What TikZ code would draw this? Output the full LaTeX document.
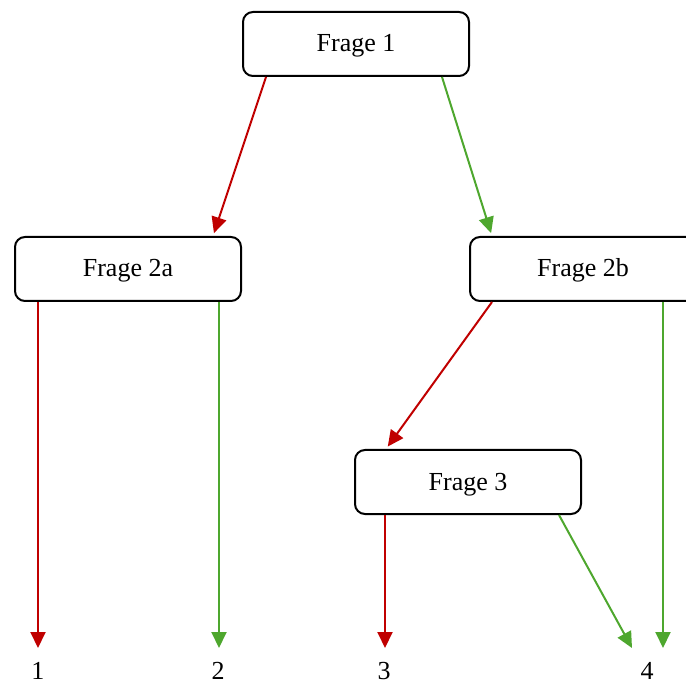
\documentclass[tikz,border=0pt]{standalone}
\usepackage{fontspec}
\setmainfont{Liberation Serif}
\usepackage{tikz}
\usetikzlibrary{arrows.meta, positioning}
\usepackage{xcolor}
\definecolor{answerno}{HTML}{C00000}
\definecolor{answeryes}{HTML}{4EA72E}
\tikzset{
  question/.style={
    rectangle, draw=black, fill=white, rounded corners=5pt,
    minimum width=113pt, minimum height=32pt,
    text height=9pt, text depth=1pt,
    font=\fontsize{13}{15}\selectfont, text centered, line width=1pt
  },
  leaf/.style={font=\fontsize{13}{15}\selectfont, inner sep=0pt},
  arrowno/.style={-{Triangle[length=8pt, width=7.5pt]}, answerno, line width=1pt},
  arrowyes/.style={-{Triangle[length=8pt, width=7.5pt]}, answeryes, line width=1pt},
}

\begin{document}
\begin{tikzpicture}[x=0.5pt, y=-0.5pt]
\useasboundingbox (0,0) rectangle (686,684);

% Questions
\node[question] (q1) at (356,44) {Frage 1};
\node[question] (q2a) at (128,269) {Frage 2a};
\node[question] (q2b) at (583,269) {Frage 2b};
\node[question] (q3) at (468,482) {Frage 3};

% Arrow tips and results
\coordinate (e1) at (38,648);
\coordinate (e2) at (219,648);
\coordinate (e3) at (385,648);
\coordinate (e4a) at (632,648);
\coordinate (e4b) at (663,648);
\node[leaf] (l1) at (38,671) {1};
\node[leaf] (l2) at (218,671) {2};
\node[leaf] (l3) at (384,671) {3};
\node[leaf] (l4) at (647,671) {4};

% Frage 1
\draw[arrowno, shorten >=1.5pt] ([xshift=12pt]q1.south west) -- ([xshift=-14.5pt]q2a.north east);
\draw[arrowyes, shorten >=1.5pt] ([xshift=-14pt]q1.south east) -- ([xshift=11.5pt]q2b.north west);

% Frage 2a
\draw[arrowno] (e1 |- q2a.south) -- (e1);
\draw[arrowyes] (e2 |- q2a.south) -- (e2);

% Frage 2b
\draw[arrowno, shorten >=1.5pt] ([xshift=11.5pt]q2b.south west) -- ([xshift=16pt]q3.north west);
\draw[arrowyes] (e4b |- q2b.south) -- (e4b);

% Frage 3
\draw[arrowno] (e3 |- q3.south) -- (e3);
\draw[arrowyes] ([xshift=-11.5pt]q3.south east) -- (e4a);

\end{tikzpicture}
\end{document}
